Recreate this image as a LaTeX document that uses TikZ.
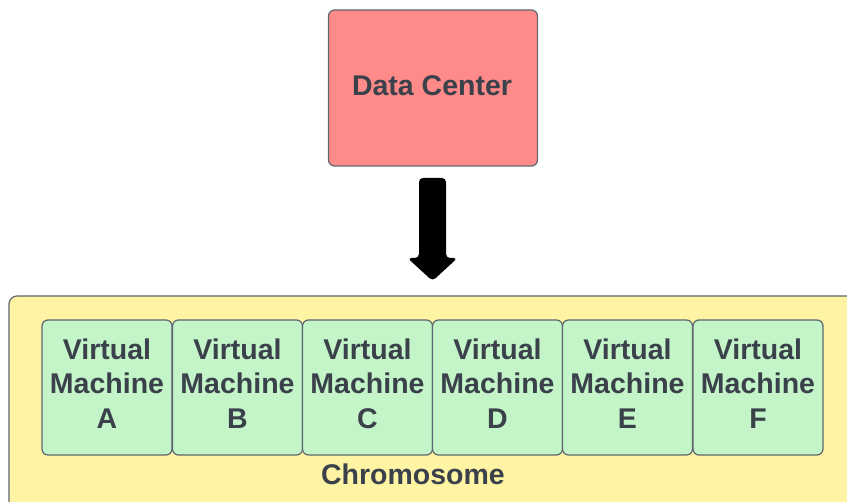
\documentclass[tikz,border=0pt]{standalone}
\usepackage{fontspec}
\setmainfont{Liberation Sans}
\definecolor{txt}{HTML}{3A414A}
\definecolor{edge}{HTML}{5F6670}
\definecolor{dcfill}{HTML}{FF8A8A}
\definecolor{vmfill}{HTML}{C3F5C8}
\definecolor{chromfill}{HTML}{FFF4A3}
\tikzset{
  box/.style={draw=edge, line width=1.2pt, rounded corners=6pt},
  lbl/.style={text=txt, font=\fontsize{28.5}{34.5}\selectfont\bfseries, align=center, inner sep=0pt},
  vm/.style={box, fill=vmfill, minimum width=130pt, minimum height=135pt, inner sep=0pt},
}
\begin{document}
\begin{tikzpicture}[x=1pt, y=-1pt]
\useasboundingbox (0,0) rectangle (847,502);
\clip (0,0) rectangle (847,502);

% outer chromosome container, running past the right and bottom edges
\draw[box, fill=chromfill, rounded corners=8pt] (9,296) rectangle (870,530);
\node[lbl] (chrom) at (413,474) {Chromosome};

% data center
\node[box, fill=dcfill, minimum width=209pt, minimum height=156pt, inner sep=0pt] (dc) at (433,88) {};
\node[lbl] (dclbl) at (432,86) {Data Center};

% block arrow
\coordinate (atop) at (432.5,178);
\fill[black, rounded corners=4pt]
  (419,258) -- (419,178) -- (446,178) -- (446,258)
  -- (457.5,258) -- (432.5,281) -- (407.5,258) -- cycle;

% virtual machines
\foreach \n/\c [count=\i from 0] in {A/107,B/237.5,C/367.5,D/497.5,E/627.5,F/758} {
  \node[vm] (vm\n) at (\c,387.5) {};
  \node[lbl] (vm\n lbl) at (\c,383.5) {Virtual\\Machine\\\n};
}
\end{tikzpicture}
\end{document}
